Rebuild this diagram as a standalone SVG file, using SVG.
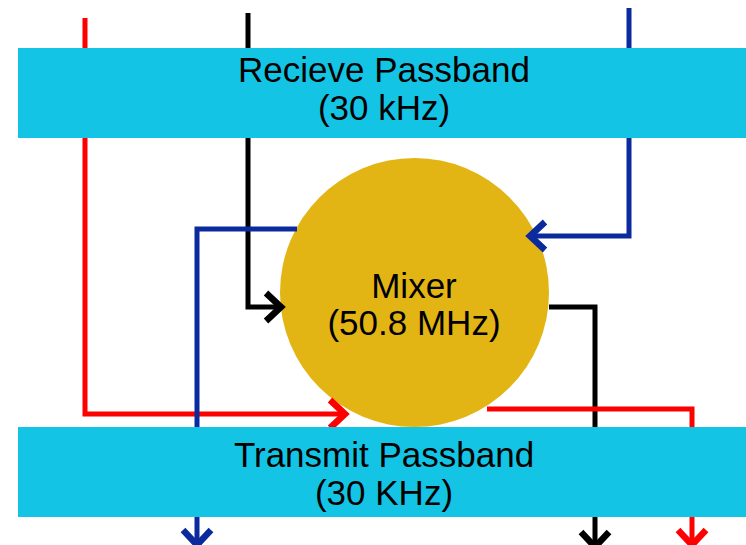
<svg xmlns="http://www.w3.org/2000/svg" width="746" height="545" viewBox="0 0 746 545">
<style>
.box{fill:#13C4E4;}
.mix{fill:#E3B514;}
.lbl{font-family:"Liberation Sans",Arial,sans-serif;font-size:35px;fill:#000;text-anchor:middle;}
.c{fill:none;stroke-width:5;}
.r{stroke:#FF0000;}
.k{stroke:#000000;}
.b{stroke:#0B2A9E;}
</style>
<defs>
<marker id="ar" viewBox="0 0 24 34" refX="19" refY="17" markerWidth="24" markerHeight="34" markerUnits="userSpaceOnUse" orient="auto"><path d="M3,3 L18,17 L3,31" fill="none" stroke="#FF0000" stroke-width="6.5"/></marker>
<marker id="ak" viewBox="0 0 24 34" refX="19" refY="17" markerWidth="24" markerHeight="34" markerUnits="userSpaceOnUse" orient="auto"><path d="M3,3 L18,17 L3,31" fill="none" stroke="#000000" stroke-width="6.5"/></marker>
<marker id="ab" viewBox="0 0 24 34" refX="19" refY="17" markerWidth="24" markerHeight="34" markerUnits="userSpaceOnUse" orient="auto"><path d="M3,3 L18,17 L3,31" fill="none" stroke="#0B2A9E" stroke-width="6.5"/></marker>
</defs>
<g id="mixer">
<circle class="mix" cx="414.5" cy="292.5" r="134.5"/>
<text class="lbl" x="414" y="298">Mixer</text>
<text class="lbl" x="414" y="335">(50.8 MHz)</text>
</g>
<g id="connectors">
<polyline class="c r" points="85,18 85,414 346,414" marker-end="url(#ar)"/>
<polyline class="c k" points="248,13 248,307 282,307" marker-end="url(#ak)"/>
<polyline class="c b" points="629,8 629,236 529,236" marker-end="url(#ab)"/>
<polyline class="c b" points="297,229 197,229 197,546" marker-end="url(#ab)"/>
<polyline class="c k" points="549,307 595,307 595,548" marker-end="url(#ak)"/>
<polyline class="c r" points="487,409 692,409 692,546" marker-end="url(#ar)"/>
</g>
<g id="receive">
<rect class="box" x="18" y="48" width="728" height="90"/>
<text class="lbl" x="384" y="82">Recieve Passband</text>
<text class="lbl" x="384" y="120">(30 kHz)</text>
</g>
<g id="transmit">
<rect class="box" x="18" y="427" width="728" height="90"/>
<text class="lbl" x="384" y="467">Transmit Passband</text>
<text class="lbl" x="384" y="505">(30 KHz)</text>
</g>
</svg>
